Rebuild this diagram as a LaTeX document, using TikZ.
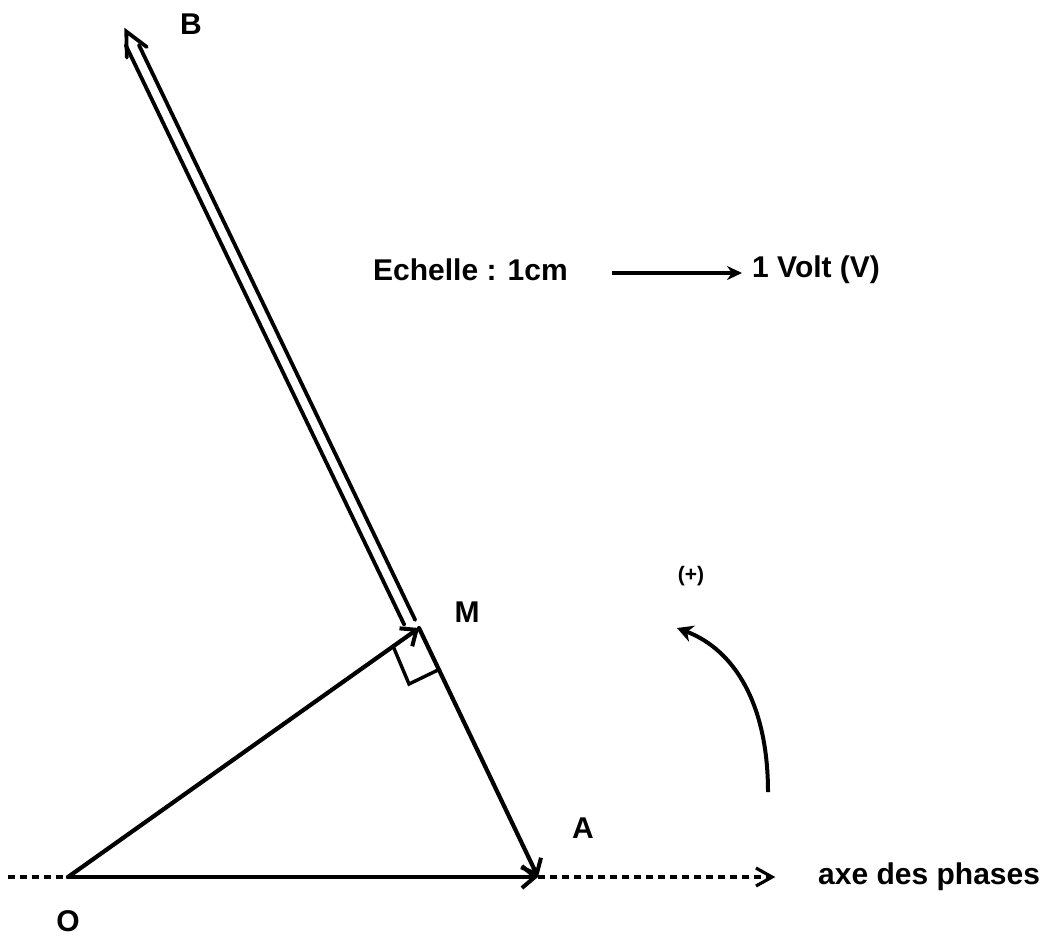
\documentclass[tikz,border=0pt]{standalone}
\usepackage{fontspec}
\setmainfont{Liberation Sans}
\usetikzlibrary{arrows.meta,calc}
\begin{document}
\begin{tikzpicture}[x=1pt,y=-1pt,
  vec/.style={line width=4.2pt, line cap=round, -{Straight Barb[length=13pt,width=22pt,line width=4pt]}},
  plain/.style={line width=3.8pt, line cap=round},
  axisdash/.style={line width=3.2pt, dash pattern=on 7pt off 5pt},
  lbl/.style={font=\bfseries\fontsize{30}{32}\selectfont, inner sep=0pt},
  small/.style={font=\bfseries\fontsize{21}{22}\selectfont, inner sep=0pt}]
\useasboundingbox (0,0) rectangle (1056,938);
% points
\coordinate (O) at (68,877);
\coordinate (A) at (538,877);
\coordinate (M) at (419,628);
\coordinate (L) at (8,877);
\coordinate (E) at (772,877);
% double vector towards B
\coordinate (Rb) at (415.2,620);
\coordinate (Rt) at (138.9,45);
\coordinate (Lb) at (404.3,624.8);
\coordinate (Lt) at (125.7,45);
\coordinate (Btip) at (126.3,31.5);
\coordinate (Bl) at (126.8,57.6);
\coordinate (Br) at (146.8,47.0);
% right-angle marker
\coordinate (Q1) at (393,646);
\coordinate (Q2) at (409,684);
\coordinate (Q3) at (438,670);
% rotation arrow
\coordinate (R1) at (768,792);
\coordinate (R2) at (677,628);
% labels
\node[lbl] (nB) at (191,24) {B};
\node[lbl] (nM) at (467,612) {M};
\node[lbl] (nA) at (583,828) {A};
\node[lbl] (nO) at (68,921) {O};
\node[small] (plus) at (691,576) {(+)};
\node[lbl, anchor=west] (ech) at (373,270) {Echelle : 1cm};
\node[lbl, anchor=west] (volt) at (752,270) {1 Volt (V)};
\node[lbl, anchor=west] (axe) at (818,877) {axe des phases};
\coordinate (S1) at (612,273);
\coordinate (S2) at (742,273);
% axis
\draw[axisdash] (L) -- (O);
\draw[axisdash] (A) -- (E);
\draw[line width=3.2pt] ($(E)+(-16,-9)$) -- (E) -- ($(E)+(-16,9)$);
% vectors
\draw[vec] (O) -- (A);
\draw[vec] (O) -- (M);
\draw[vec] (M) -- (A);
\draw[plain] (Rb) -- (Rt);
\draw[plain] (Lb) -- (Lt);
\draw[plain, line join=miter] (Bl) -- (Btip) -- (Br);
\draw[line width=3.4pt] (Q1) -- (Q2) -- (Q3);
% scale arrow
\draw[line width=3.4pt, -{Stealth[length=15pt,width=14pt]}] (S1) -- (S2);
% rotation arrow
\draw[line width=4pt, -{Stealth[length=16pt,width=17pt]}] (R1) .. controls (768,705) and (735,650) .. (R2);
\end{tikzpicture}
\end{document}
